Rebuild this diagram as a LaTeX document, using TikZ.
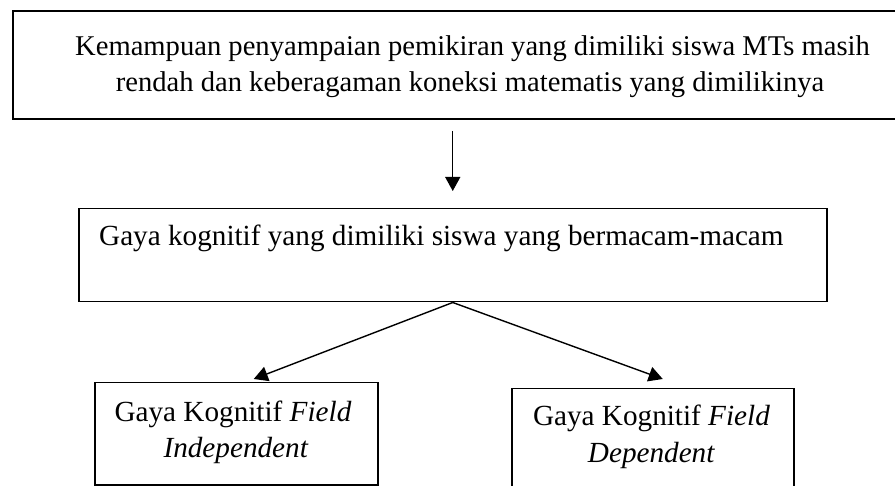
\documentclass[tikz,border=0pt]{standalone}
\usepackage{fontspec}
\setmainfont{Liberation Serif}
\usetikzlibrary{arrows.meta,calc}
\begin{document}
\begin{tikzpicture}[x=1pt,y=-1pt,
  box/.style={draw,line width=1.5pt,rectangle,inner sep=0pt,anchor=north west},
  txt/.style={inner sep=0pt,anchor=base,font=\fontsize{29.2}{34}\selectfont},
  toptxt/.style={txt,font=\fontsize{28.6}{34}\selectfont},
  arr/.style={line width=1.4pt,-{Triangle[length=14pt,width=15pt]}}]
\useasboundingbox (0,0) rectangle (895,486);
\clip (0,0) rectangle (895,486);
\fill[white] (0,0) rectangle (895,486);
% boxes
\node[box,line width=2pt,minimum width=920pt,minimum height=108pt] (top) at (12,10) {};
\node[box,minimum width=748pt,minimum height=93pt] (mid) at (78,208) {};
\node[box,minimum width=283pt,minimum height=102pt] (left) at (94,382) {};
\node[box,minimum width=282pt,minimum height=110pt] (right) at (511,388) {};
% texts
\node[toptxt] (t1) at (472.5,56) {Kemampuan penyampaian pemikiran yang dimiliki siswa MTs masih};
\node[toptxt] (t2) at (470,92) {rendah dan keberagaman koneksi matematis yang dimilikinya};
\node[txt,anchor=base west] (t3) at (99,246) {Gaya kognitif yang dimiliki siswa yang bermacam-macam};
\node[txt] (t4) at (233,421) {Gaya Kognitif \textit{Field}};
\node[txt] (t5) at (236,457) {\textit{Independent}};
\node[txt] (t6) at (651.5,426) {Gaya Kognitif \textit{Field}};
\node[txt] (t7) at (651.5,463) {\textit{Dependent}};
% connectors
\draw[arr,shorten <=11pt,shorten >=17pt] (top.south -| mid.north) -- (mid.north);
\coordinate (lt) at ($(left.north)+(17.5,-3)$);
\coordinate (rt) at ($(right.north)+(10,-9)$);
\draw[arr] (mid.south) -- (lt);
\draw[arr] (mid.south) -- (rt);
\end{tikzpicture}
\end{document}
